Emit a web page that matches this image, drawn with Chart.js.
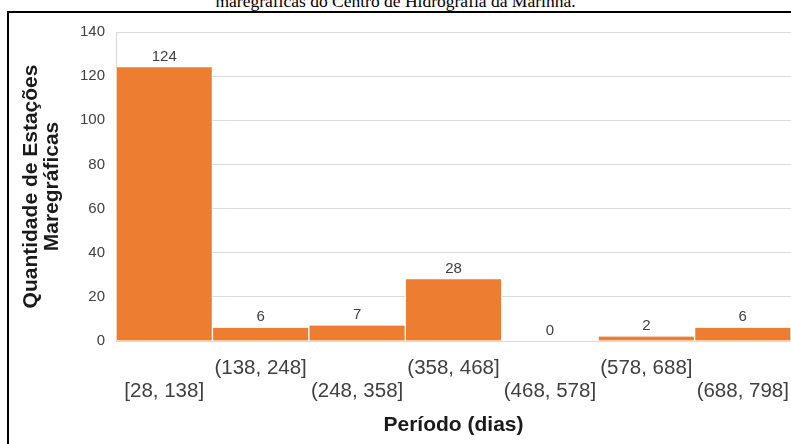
<!DOCTYPE html>
<html lang="pt">
<head>
<meta charset="utf-8">
<script src="https://cdn.jsdelivr.net/npm/chart.js@4.4.1/dist/chart.umd.min.js"></script>
<style>
  html, body { margin: 0; padding: 0; background: #fff; }
  body { width: 791px; height: 444px; position: relative; overflow: hidden; }
  #caption {
    position: absolute; left: 0; top: -8px; width: 791px;
    text-align: center; font: 17.5px "Liberation Serif", "Times New Roman", serif;
    line-height: 18px; color: #000; white-space: nowrap;
  }
  #frame {
    position: absolute; left: 7px; top: 11px; width: 800px; height: 450px;
    border-top: 2px solid #000; border-left: 2px solid #000;
    pointer-events: none; z-index: 2;
  }
  #chart { position: absolute; left: 0; top: 0; }
</style>
</head>
<body>
<div id="caption">maregráficas do Centro de Hidrografia da Marinha.</div>
<div id="frame"></div>
<canvas id="chart" width="791" height="444"></canvas>
<script>
// Histogram of observation periods (days) per tide-gauge station
const categories = ['[28, 138]', '(138, 248]', '(248, 358]', '(358, 468]', '(468, 578]', '(578, 688]', '(688, 798]'];
const stationCounts = [124, 6, 7, 28, 0, 2, 6];
const yTicks = [0, 20, 40, 60, 80, 100, 120, 140];

// staggered two-row tick labels: odd bins on the upper row, even bins on the lower row
const tickLabels = categories.map((c, i) => (i % 2 === 0 ? ['', c] : [c, '']));

const valueLabels = {
  id: 'valueLabels',
  afterDatasetsDraw(chart) {
    const ctx = chart.ctx;
    const meta = chart.getDatasetMeta(0);
    ctx.save();
    ctx.font = '15px "Liberation Sans", Arial, sans-serif';
    ctx.fillStyle = '#404040';
    ctx.textAlign = 'center';
    ctx.textBaseline = 'bottom';
    meta.data.forEach((bar, i) => {
      ctx.fillText(String(stationCounts[i]), bar.x, bar.y - 3);
    });
    ctx.restore();
  }
};

new Chart(document.getElementById('chart'), {
  type: 'bar',
  data: {
    labels: tickLabels,
    datasets: [{
      data: stationCounts,
      backgroundColor: '#ED7D31',
      borderColor: '#ffffff',
      borderWidth: { left: 1, right: 1, top: 0, bottom: 0 },
      borderSkipped: false,
      categoryPercentage: 1.0,
      barPercentage: 1.0
    }]
  },
  options: {
    responsive: false,
    animation: false,
    devicePixelRatio: 1,
    layout: { padding: { top: 32, right: 0, bottom: 0, left: 0 } },
    plugins: { legend: { display: false }, tooltip: { enabled: false } },
    scales: {
      x: {
        grid: { display: false },
        border: { display: true, color: '#d9d9d9', width: 1 },
        ticks: {
          autoSkip: false, maxRotation: 0, minRotation: 0, padding: 7.5,
          color: '#404040',
          font: { family: '"Liberation Sans", Arial, sans-serif', size: 20.5, lineHeight: 1.12 }
        },
        title: {
          display: true, text: 'Período (dias)', color: '#1a1a1a',
          font: { family: '"Liberation Sans", Arial, sans-serif', size: 21, weight: 'bold', lineHeight: 1.2 },
          padding: { top: 0, bottom: 6.5 }
        },
        afterFit(scale) {
          scale.height = 103;
          scale.paddingLeft = 0;
          scale.paddingRight = 0;
        }
      },
      y: {
        min: 0, max: 140,
        afterBuildTicks(scale) { scale.ticks = yTicks.map(v => ({ value: v })); },
        grid: { color: '#d9d9d9', lineWidth: 1, drawTicks: false },
        border: { display: true, color: '#d9d9d9', width: 1 },
        ticks: {
          padding: 11, color: '#404040',
          font: { family: '"Liberation Sans", Arial, sans-serif', size: 15 }
        },
        title: {
          display: true, text: ['Quantidade de Estações', 'Maregráficas'], color: '#1a1a1a',
          font: { family: '"Liberation Sans", Arial, sans-serif', size: 21, weight: 'bold', lineHeight: 1.0 },
          padding: { top: 21, bottom: 0 }
        },
        afterFit(scale) { scale.width = 116; }
      }
    }
  },
  plugins: [valueLabels]
});
</script>
</body>
</html>
